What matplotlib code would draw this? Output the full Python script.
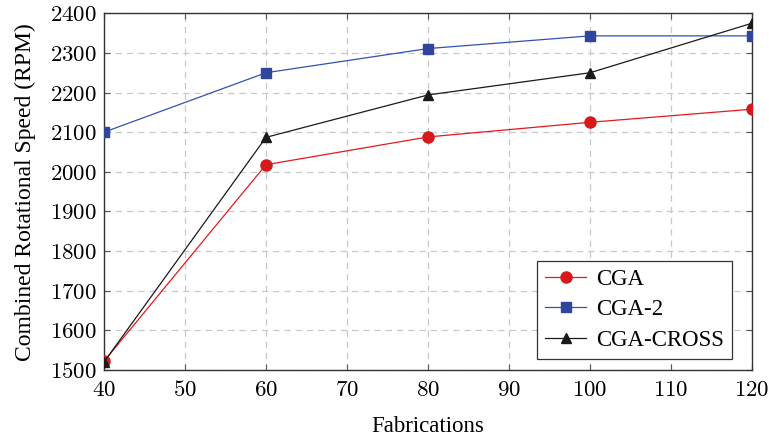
import numpy as np
import matplotlib.pyplot as plt

plt.rcParams['font.family'] = ['Liberation Serif', 'DejaVu Serif']
plt.rcParams['mathtext.fontset'] = 'cm'

fabrications = [40, 60, 80, 100, 120]
cga = [1522, 2018, 2088, 2125, 2158]
cga2 = [2100, 2250, 2311, 2343, 2343]
cga_cross = [1520, 2087, 2194, 2250, 2375]

x_ticks = [40, 50, 60, 70, 80, 90, 100, 110, 120]
y_ticks = [1500, 1600, 1700, 1800, 1900, 2000, 2100, 2200, 2300, 2400]

fig = plt.figure(figsize=(7.69, 4.37), dpi=100)
ax = fig.add_axes([0.1352, 0.1533, 0.8428, 0.8163])

ax.plot(fabrications, cga, color='#e41a1c', lw=0.9, marker='o', ms=8,
        markerfacecolor='#d7191c', markeredgecolor='#d7191c', label='CGA', zorder=3)
ax.plot(fabrications, cga2, color='#3152b0', lw=0.9, marker='s', ms=7.5,
        markerfacecolor='#2f459e', markeredgecolor='#2f459e', label='CGA-2', zorder=3)
ax.plot(fabrications, cga_cross, color='#1a1a1a', lw=0.9, marker='^', ms=6.5,
        markerfacecolor='#1a1a1a', markeredgecolor='#1a1a1a', label='CGA-CROSS', zorder=3)

ax.set_xlim(40, 120)
ax.set_ylim(1500, 2400)
ax.set_xticks(x_ticks, labels=[f'${v}$' for v in x_ticks])
ax.set_yticks(y_ticks, labels=[f'${v}$' for v in y_ticks])
ax.grid(True, color='#c8c8c8', linestyle=(0, (5, 4)), lw=0.9)
ax.tick_params(direction='in', top=True, right=True, length=4, width=0.8,
               color='#555555', labelsize=16.5)
ax.tick_params(axis='x', pad=7)
ax.tick_params(axis='y', pad=5)
for sp in ax.spines.values():
    sp.set_color('#333333')
    sp.set_linewidth(1.0)

ax.set_xlabel('Fabrications', fontsize=16.5, labelpad=11)
ax.set_ylabel('Combined Rotational Speed (RPM)', fontsize=17, labelpad=10)

leg = ax.legend(loc='lower right', fontsize=16.5, fancybox=False, framealpha=1,
                edgecolor='#333333', borderpad=0.35, handlelength=1.8,
                handletextpad=0.4, labelspacing=0.4,
                bbox_to_anchor=(0.986, 0.0))
leg.get_frame().set_linewidth(0.9)

fig.savefig('out.png', dpi=100)
